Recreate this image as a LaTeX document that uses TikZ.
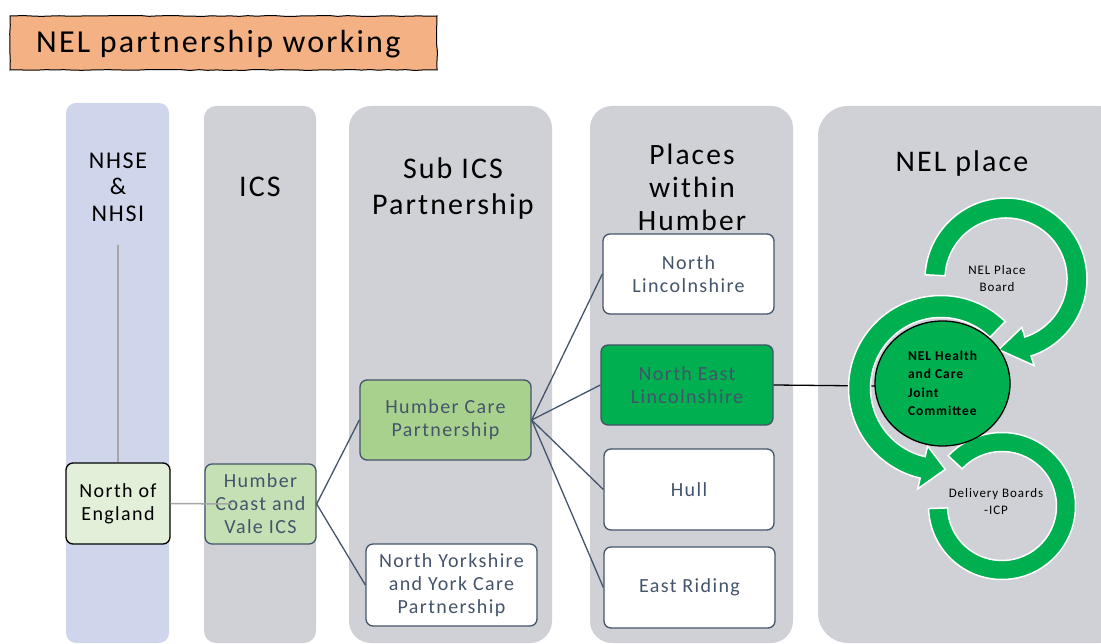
\documentclass[tikz,border=0pt]{standalone}
\usepackage{fontspec}
\setmainfont{Carlito}[LetterSpace=7]
\usetikzlibrary{calc,shapes.geometric,decorations.pathmorphing}

\definecolor{slate}{HTML}{44546A}
\definecolor{colgrey}{RGB}{208,209,214}
\definecolor{collav}{RGB}{207,213,234}
\definecolor{ringgreen}{HTML}{00B050}
\definecolor{titleorange}{HTML}{F4B183}
\definecolor{paleg}{HTML}{E2EFD9}
\definecolor{lightg}{HTML}{C5E0B4}
\definecolor{midg}{HTML}{A9D18E}
\definecolor{linegrey}{HTML}{A6A6A6}

% green ring pieces: centre, mid radius, width, start angle, end angle (, tip angle)
\newcommand{\ringarrow}[6]{%
  \path[fill=ringgreen, draw=white, line width=1.5pt]
    ($(#1)+({#4}:{#2+#3/2})$) arc[start angle=#4, end angle=#5, radius=#2+#3/2]
    -- ($(#1)+({#5}:{#2+#3})$) -- ($(#1)+({#6}:{#2})$) -- ($(#1)+({#5}:{#2-#3})$)
    -- ($(#1)+({#5}:{#2-#3/2})$) arc[start angle=#5, end angle=#4, radius=#2-#3/2] -- cycle;}
\newcommand{\ringband}[5]{%
  \path[fill=ringgreen, draw=white, line width=1.5pt]
    ($(#1)+({#4}:{#2+#3/2})$) arc[start angle=#4, end angle=#5, radius=#2+#3/2]
    -- ($(#1)+({#5}:{#2-#3/2})$) arc[start angle=#5, end angle=#4, radius=#2-#3/2] -- cycle;}

\tikzset{
  header/.style={align=center, text=black, inner sep=0pt},
  unit/.style={draw=slate, line width=1.3pt, rounded corners=7pt, text=slate, align=center,
    font=\fontsize{20}{23}\selectfont, minimum width=171pt, minimum height=80pt, inner sep=0pt},
  link/.style={slate, line width=1.3pt},
}

\begin{document}
\begin{tikzpicture}[x=1pt, y=-1pt]
	\useasboundingbox (0,0) rectangle (1101,644);
	% title
	\draw[fill=titleorange, line width=1pt, decorate,
		decoration={random steps, segment length=9pt, amplitude=0.5pt}] (10,16) rectangle (437,70);
	\node[anchor=base west, inner sep=0pt, font=\fontsize{32}{38}\selectfont] (title) at (36,53) {NEL partnership working};
	% columns
	\fill[collav, rounded corners=10pt] (66,103) rectangle (169,643);
	\fill[colgrey, rounded corners=12pt] (204,106) rectangle (316,643);
	\fill[colgrey, rounded corners=22pt] (349,106) rectangle (552,643);
	\fill[colgrey, rounded corners=22pt] (590,106) rectangle (793,643);
	\fill[colgrey, rounded corners=30pt] (818,106) rectangle (1130,643);
	% headers
	\node[header, font=\fontsize{24}{26.5}\selectfont] (nhse) at (118,187) {NHSE\\\&\\NHSI};
	\node[header, anchor=base, font=\fontsize{30}{38}\selectfont] (ics) at (260,197) {ICS};
	\node[header, font=\fontsize{30}{36}\selectfont] (subics) at (453,189) {Sub ICS\\Partnership};
	\node[header, font=\fontsize{29.5}{33}\selectfont] (places) at (692,187.5) {Places\\within\\Humber};
	\node[header, anchor=base, font=\fontsize{30}{38}\selectfont] (nelplace) at (962,172) {NEL place};
	% boxes
	\node[unit, draw=black, text=black, fill=paleg, minimum width=104pt, minimum height=81pt] (noe) at (118,503.5) {North of\\England};
	\node[unit, fill=lightg, minimum width=111pt] (hcv) at (260.5,504) {Humber\\Coast and\\Vale ICS};
	\node[unit, fill=midg] (hcp) at (445.5,420) {Humber Care\\Partnership};
	\node[unit, fill=white, minimum height=82pt] (nyy) at (451.5,585) {North Yorkshire\\and York Care\\Partnership};
	\node[unit, fill=white] (nl) at (688.5,274) {North\\Lincolnshire};
	\node[unit, fill=ringgreen, minimum width=172pt] (nel) at (687,385) {North East\\Lincolnshire};
	\node[unit, fill=white, minimum width=170pt, minimum height=81pt] (hull) at (689,489.5) {Hull};
	\node[unit, fill=white, minimum height=81pt] (er) at (689.5,587.5) {East Riding};
	% links
	\coordinate (nhsefoot) at (118,245);
	\coordinate (hcvtext) at (232,504);
	\coordinate (jcedge) at (875,386);
	\draw[linegrey, line width=1.5pt] (nhsefoot) -- (noe.north);
	\draw[linegrey, line width=1.5pt] (noe.east) -- (hcvtext);
	\draw[link] (hcv.east) -- (hcp.west);
	\draw[link] (hcv.east) -- (nyy.west);
	\draw[link] (hcp.east) -- (nl.west);
	\draw[link] (hcp.east) -- (nel.west);
	\draw[link] (hcp.east) -- (hull.west);
	\draw[link] (hcp.east) -- (er.west);
	\draw[black, line width=1.3pt] (nel.east) -- (jcedge);
	% NEL place cycle
	\ringarrow{941,388}{81.5}{22}{314}{103}{87}
	\ringband{1002,506}{64}{19}{178}{-137}
	\ringarrow{1006,279}{71}{20}{183}{432}{456}
	\node[ellipse, draw=black, fill=ringgreen, line width=1.3pt, minimum width=135pt, minimum height=125pt,
		inner sep=0pt, align=left, font=\bfseries\fontsize{13.5}{18.5}\selectfont] (jc) at (942.5,383.5)
		{NEL Health\\and Care\\Joint\\Committee};
	\node[align=center, inner sep=0pt, font=\fontsize{13}{17}\selectfont] (board) at (997,279) {NEL Place\\Board};
	\node[align=center, inner sep=0pt, font=\fontsize{13}{17}\selectfont] (delivery) at (996,502) {Delivery Boards\\-ICP};
\end{tikzpicture}
\end{document}
